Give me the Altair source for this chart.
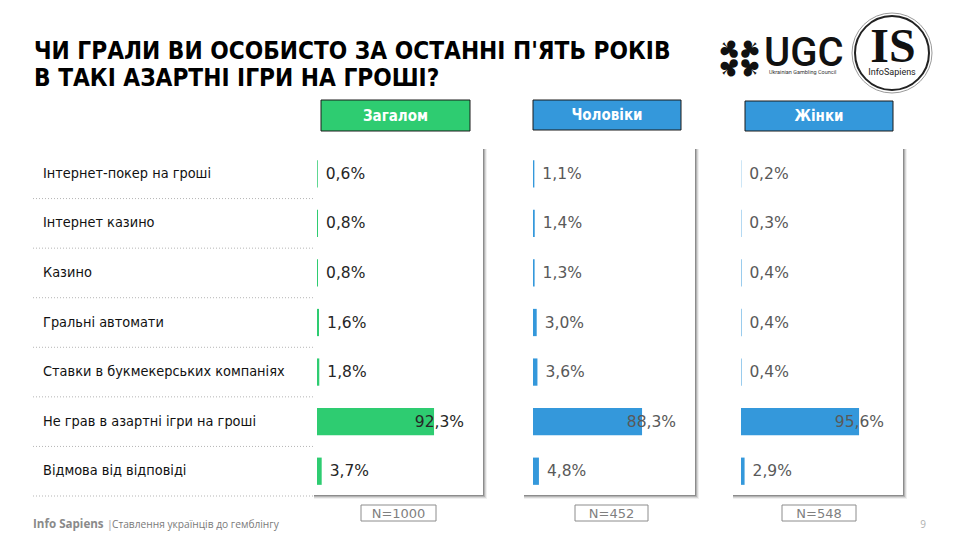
import altair as alt
import pandas as pd

# ---------------- data ----------------
categories = [
    "Інтернет-покер на гроші",
    "Інтернет казино",
    "Казино",
    "Гральні автомати",
    "Ставки в букмекерських компаніях",
    "Не грав в азартні ігри  на гроші",
    "Відмова від  відповіді",
]
total = [0.6, 0.8, 0.8, 1.6, 1.8, 92.3, 3.7]
men = [1.1, 1.4, 1.3, 3.0, 3.6, 88.3, 4.8]
women = [0.2, 0.3, 0.4, 0.4, 0.4, 95.6, 2.9]
series_names = ["Загалом", "Чоловіки", "Жінки"]
sample_sizes = ["N=1000", "N=452", "N=548"]

title_lines = ["ЧИ ГРАЛИ ВИ ОСОБИСТО ЗА ОСТАННІ П'ЯТЬ РОКІВ", "В ТАКІ АЗАРТНІ ІГРИ НА ГРОШІ?"]
footer_brand = "Info Sapiens"
footer_text = "Ставлення українців до гемблінгу"
page_number = "9"

df = pd.DataFrame({"cat": categories, "total": total, "men": men, "women": women})
one = pd.DataFrame({"k": [0]})

# ---------------- layout ----------------
W, H = 944, 524
OFF = 8


def px(v):
    return v - OFF


NARROW = "DejaVu Sans Condensed, sans-serif"
VALFONT = "DejaVu Sans, Verdana, sans-serif"
HEADFONT = "DejaVu Sans Condensed, sans-serif"

y_scale = alt.Scale(domain=categories, range=[px(149), px(496)], paddingInner=0.45, paddingOuter=0.225)
Y = alt.Y("cat:N", scale=y_scale, axis=None)

panels = [
    dict(field="total", color="#2ECC71", start=317, ppu=1.268, box=(313, 483), head=(321, 470, 100, 131),
         nbox=(361, 436), big_dx=30, txt="#262626"),
    dict(field="men", color="#3498DB", start=533, ppu=1.235, box=(523, 695), head=(533, 681, 100, 130),
         nbox=(575, 648), big_dx=34, txt="#595959"),
    dict(field="women", color="#3498DB", start=741, ppu=1.235, box=(732, 903), head=(745, 893, 101, 131),
         nbox=(782, 856), big_dx=25, txt="#595959"),
]
PANEL_TOP, PANEL_BOTTOM = 148, 495

layers = []

# panel boxes with shadows
for p in panels:
    x0, x1 = p["box"]
    for off, op in [(4, 0.06), (3, 0.10), (2, 0.16), (1, 0.22)]:
        layers.append(
            alt.Chart(one).mark_rect(color="#000000", opacity=op).encode(
                x=alt.value(px(x0) + 1), x2=alt.value(px(x1) + off),
                y=alt.value(px(PANEL_TOP) + 1), y2=alt.value(px(PANEL_BOTTOM) + off))
        )
    layers.append(
        alt.Chart(one).mark_rect(color="#ffffff").encode(
            x=alt.value(px(x0)), x2=alt.value(px(x1)),
            y=alt.value(px(PANEL_TOP)), y2=alt.value(px(PANEL_BOTTOM)))
    )

# dotted separators in label area
step = (496 - 149) / len(categories)
layers.append(
    alt.Chart(df).mark_rule(strokeDash=[1, 2], color="#b5b5b5", strokeWidth=1, yOffset=step / 2).encode(
        x=alt.value(px(33)), x2=alt.value(px(313)), y=Y)
)

# category labels
layers.append(
    alt.Chart(df).mark_text(align="left", baseline="middle", font=NARROW, fontSize=14.4, color="#111111").encode(
        x=alt.value(px(43)), y=Y, text="cat:N")
)

# bars and value labels
for p in panels:
    f = p["field"]
    X = alt.X(f"{f}:Q", scale=alt.Scale(domain=[0, 100], range=[px(p["start"]), px(p["start"]) + 100 * p["ppu"]]),
              axis=None)
    layers.append(alt.Chart(df).mark_bar(color=p["color"]).encode(x=X, y=Y))
    lab = f"replace(format(datum['{f}'], '.1f'), '.', ',') + '%'"
    layers.append(
        alt.Chart(df).transform_filter(f"datum['{f}'] < 50").transform_calculate(lab=lab)
        .mark_text(align="left", baseline="middle", dx=8, font=VALFONT, fontSize=15.5, color=p["txt"])
        .encode(x=X, y=Y, text="lab:N")
    )
    layers.append(
        alt.Chart(df).transform_filter(f"datum['{f}'] >= 50").transform_calculate(lab=lab)
        .mark_text(align="right", baseline="middle", dx=p["big_dx"], font=VALFONT, fontSize=15.5, color=p["txt"])
        .encode(x=X, y=Y, text="lab:N")
    )

# headers and N boxes
for p, name, n in zip(panels, series_names, sample_sizes):
    hx0, hx1, hy0, hy1 = p["head"]
    layers.append(
        alt.Chart(one).mark_rect(color=p["color"], stroke="#1a1a1a", strokeWidth=1).encode(
            x=alt.value(px(hx0)), x2=alt.value(px(hx1)), y=alt.value(px(hy0)), y2=alt.value(px(hy1)))
    )
    layers.append(
        alt.Chart(one).mark_text(text=name, align="center", baseline="middle", font=HEADFONT, fontSize=15,
                                 fontWeight="bold", color="#ffffff").encode(
            x=alt.value(px((hx0 + hx1) / 2)), y=alt.value(px((hy0 + hy1) / 2)))
    )
    nx0, nx1 = p["nbox"]
    layers.append(
        alt.Chart(one).mark_rect(fill="#ffffff", stroke="#8c8c8c", strokeWidth=1).encode(
            x=alt.value(px(nx0)), x2=alt.value(px(nx1)), y=alt.value(px(505)), y2=alt.value(px(521)))
    )
    layers.append(
        alt.Chart(one).mark_text(text=n, align="center", baseline="middle", font=VALFONT, fontSize=13,
                                 color="#7f7f7f").encode(
            x=alt.value(px((nx0 + nx1) / 2)), y=alt.value(px(513.5)))
    )

# title
for i, line in enumerate(title_lines):
    layers.append(
        alt.Chart(one).mark_text(text=line, align="left", baseline="alphabetic", font=NARROW, fontSize=24.2,
                                 fontWeight="bold", color="#000000").encode(
            x=alt.value(px(34)), y=alt.value(px(59 + 27 * i)))
    )

# UGC logo: four clubs with stems pointing outwards
for (cx, cy, ang) in [(729, 49, 135), (750, 49, 225), (750, 68, 315), (729, 68, 45)]:
    layers.append(
        alt.Chart(one).mark_text(text="♣", align="center", baseline="middle", font="DejaVu Sans", fontSize=26,
                                 angle=ang, color="#111111").encode(x=alt.value(px(cx)), y=alt.value(px(cy)))
    )
layers.append(
    alt.Chart(one).mark_text(text="UGC", align="left", baseline="alphabetic", font="Roboto", fontSize=40,
                             fontWeight=500, color="#111111").encode(x=alt.value(px(764)), y=alt.value(px(66)))
)
layers.append(
    alt.Chart(one).mark_text(text="Ukrainian Gambling Council", align="left", baseline="top", font="Roboto",
                             fontSize=5.5, color="#333333").encode(x=alt.value(px(769)), y=alt.value(px(70)))
)

# InfoSapiens logo
layers.append(
    alt.Chart(one).mark_point(shape="circle", size=80 * 80, filled=False, stroke="#9a9a9a", strokeWidth=1,
                              opacity=1).encode(x=alt.value(px(892)), y=alt.value(px(53)))
)
layers.append(
    alt.Chart(one).mark_point(shape="circle", size=74 * 74, filled=False, stroke="#222222", strokeWidth=2,
                              opacity=1).encode(x=alt.value(px(892)), y=alt.value(px(53)))
)
layers.append(
    alt.Chart(one).mark_text(text="IS", align="center", baseline="alphabetic", font="Liberation Serif", fontSize=48,
                             fontWeight="bold", color="#111111").encode(x=alt.value(px(893)), y=alt.value(px(62)))
)
layers.append(
    alt.Chart(one).mark_text(text="InfoSapiens", align="center", baseline="top", font="Roboto", fontSize=9,
                             color="#222222").encode(x=alt.value(px(892)), y=alt.value(px(68)))
)

# footer
layers.append(
    alt.Chart(one).mark_text(text=footer_brand, align="left", baseline="middle", font="Open Sans", fontSize=11.6,
                             fontWeight="bold", color="#8a8a8a").encode(x=alt.value(px(33)), y=alt.value(px(524.5)))
)
layers.append(
    alt.Chart(one).mark_text(text="|", align="left", baseline="middle", font="Open Sans", fontSize=10.5,
                             fontWeight="bold", color="#c0c0c0").encode(x=alt.value(px(107)), y=alt.value(px(524.5)))
)
layers.append(
    alt.Chart(one).mark_text(text=footer_text, align="left", baseline="middle", font="Open Sans", fontSize=10.2,
                             color="#7a7a7a").encode(x=alt.value(px(112)), y=alt.value(px(525)))
)
layers.append(
    alt.Chart(one).mark_text(text=page_number, align="center", baseline="middle", font="Open Sans", fontSize=10,
                             color="#b0b0b0").encode(x=alt.value(px(923)), y=alt.value(px(525)))
)

chart = (
    alt.layer(*layers)
    .resolve_scale(x="independent")
    .properties(width=W, height=H, autosize=alt.AutoSizeParams(type="none"), padding=0, background="#ffffff")
    .configure_view(stroke=None)
)

chart.save("out.html", embed_options={"renderer": "svg", "actions": False})
